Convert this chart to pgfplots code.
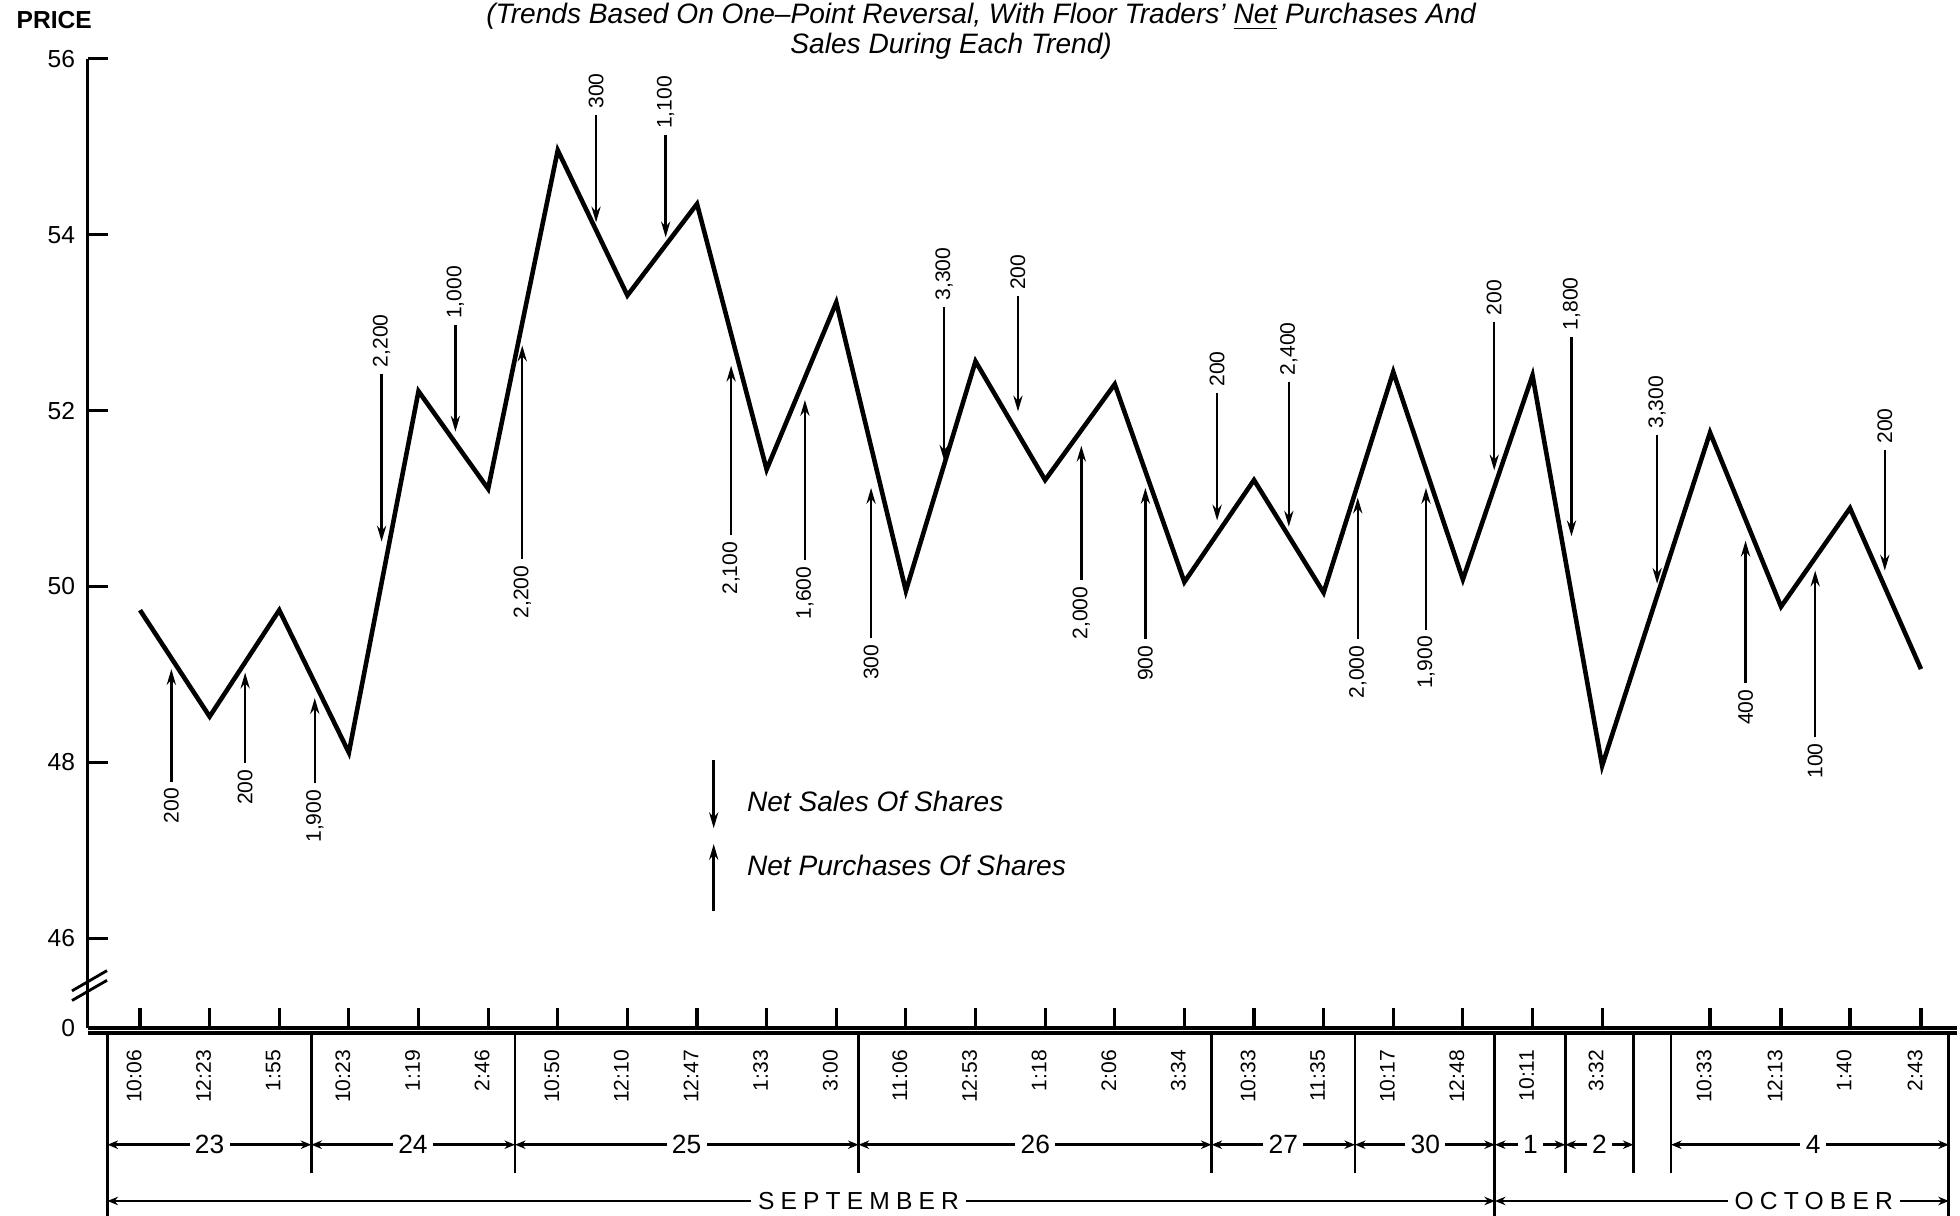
\documentclass[border=0pt]{standalone}
\usepackage{fontspec}
\setmainfont{Liberation Sans}
\setsansfont{Liberation Sans}
\usepackage{pgfplots}
\usepackage{pgfplotstable}
\pgfplotsset{compat=1.18}
\usetikzlibrary{arrows.meta}

\pgfplotstableread{
x y v lab
0.45 47.78 1.28 200
1.51 47.99 1.03 200
2.51 47.76 0.97 1,900
5.49 50.31 2.43 2,200
8.49 50.58 1.93 2,100
9.55 50.30 1.82 1,600
10.50 49.41 1.71 300
13.52 50.07 1.53 2,000
14.44 49.40 1.72 900
17.49 49.40 1.61 2,000
18.47 49.51 1.61 1,900
23.06 48.90 1.62 400
24.06 48.29 1.89 100
}\purch

\pgfplotstableread{
x y v lab
3.47 52.42 -1.91 2,200
4.53 52.97 -1.21 1,000
6.55 55.36 -1.22 300
7.55 55.13 -1.16 1,100
11.55 53.18 -1.75 3,300
12.61 53.30 -1.31 200
15.47 52.20 -1.45 200
16.50 52.33 -1.65 2,400
19.45 53.01 -1.69 200
20.56 52.84 -2.27 1,800
21.79 51.72 -1.69 3,300
25.06 51.55 -1.37 200
}\sales

\tikzset{
  sarrow/.style={-{Stealth[length=4.5pt,width=2.6pt]}, line width=0.7pt},
  darrow/.style={{Stealth[length=3pt,width=2.4pt]}-{Stealth[length=3pt,width=2.4pt]}, line width=0.8pt},
  daylab/.style={fill=white, inner sep=1.5pt, font=\fontsize{7.5}{9}\selectfont},
  monlab/.style={fill=white, inner sep=2pt, font=\fontsize{7}{8}\selectfont\addfontfeature{LetterSpace=25}},
}

\begin{document}
\begin{tikzpicture}
\begin{axis}[
  scale only axis,
  width=18.6875cm, height=9.6875cm,
  xmin=-0.754, xmax=26.09, ymin=44.98, ymax=56,
  axis x line=bottom, axis y line=left,
  axis line style={line width=1pt, -},
  clip=false,
  tick align=inside,
  major tick length=0.2cm,
  tick style={line width=0.9pt, black},
  xtick={0,1,2,3,4,5,6,7,8,9,10,11,12,13,14,15,16,17,18,19,20,21,22.55,23.57,24.56,25.58},
  xticklabels={10:06,12:23,1:55,10:23,1:19,2:46,10:50,12:10,12:47,1:33,3:00,11:06,12:53,1:18,2:06,3:34,10:33,11:35,10:17,12:48,10:11,3:32,10:33,12:13,1:40,2:43},
  xticklabel style={yshift=-0.1cm, xshift=-0.06cm, rotate=90, anchor=east, font=\fontsize{6}{7}\selectfont},
  ytick={44.98,46,48,50,52,54,56},
  yticklabels={0,46,48,50,52,54,56},
  yticklabel style={font=\fontsize{7}{8}\selectfont},
  /pgf/number format/assume math mode=true,
]
% price trend line
\addplot[black, line width=1.3pt] coordinates {
 (0,49.73) (1,48.52) (2,49.73) (3,48.11) (4,52.22) (5,51.11) (6,54.96) (7,53.31)
 (8,54.35) (9,51.33) (10,53.23) (11,49.95) (12,52.56) (13,51.21) (14,52.30) (15,50.05)
 (16,51.21) (17,49.93) (18,52.44) (19,50.08) (20,52.40) (21,47.96) (22.55,51.75)
 (23.57,49.77) (24.56,50.89) (25.58,49.06)};

% net purchases (up arrows, label below)
\addplot[black, sarrow, quiver={u=0, v=\thisrow{v}},
  point meta=explicit symbolic, nodes near coords,
  every node near coord/.append style={rotate=90, anchor=east, inner sep=1.5pt, font=\fontsize{6}{7}\selectfont, black}]
  table[x=x, y=y, meta=lab] {\purch};

% net sales (down arrows, label above)
\addplot[black, sarrow, quiver={u=0, v=\thisrow{v}},
  point meta=explicit symbolic, nodes near coords,
  every node near coord/.append style={rotate=90, anchor=west, inner sep=1.5pt, font=\fontsize{6}{7}\selectfont, black}]
  table[x=x, y=y, meta=lab] {\sales};

% titles
\node[font=\fontsize{8}{9}\selectfont\itshape] at (axis cs:12.08,56.48)
  {(Trends Based On One–Point Reversal, With Floor Traders' \underline{Net} Purchases And};
\node[font=\fontsize{8}{9}\selectfont\itshape] at (axis cs:11.65,56.14)
  {Sales During Each Trend)};
\node[font=\fontsize{7}{8}\selectfont\bfseries, anchor=west] at (axis cs:-1.95,56.44) {PRICE};

% axis break
\draw[line width=0.8pt] (axis cs:-0.977,45.40) -- (axis cs:-0.474,45.63);
\draw[line width=0.8pt] (axis cs:-0.977,45.29) -- (axis cs:-0.474,45.52);

% legend
\draw[sarrow] (axis cs:8.24,48.03) -- (axis cs:8.24,47.25);
\draw[sarrow] (axis cs:8.24,46.31) -- (axis cs:8.24,47.07);
\node[anchor=west, font=\fontsize{8}{9}\selectfont\itshape] at (axis cs:8.54,47.55) {Net Sales Of Shares};
\node[anchor=west, font=\fontsize{8}{9}\selectfont\itshape] at (axis cs:8.54,46.83) {Net Purchases Of Shares};

% date table below the axis
\draw[line width=0.9pt] (axis cs:-0.754,44.92) -- (axis cs:26.09,44.92);
\draw[line width=0.9pt] (axis cs:-0.467,44.92) -- (axis cs:-0.467,42.84);
\draw[line width=0.9pt] (axis cs:19.46,44.92) -- (axis cs:19.46,42.84);
\draw[line width=0.9pt] (axis cs:25.98,44.92) -- (axis cs:25.98,42.84);
\draw[line width=0.8pt] (axis cs:2.46,44.92) -- (axis cs:2.46,43.33);
\draw[line width=0.8pt] (axis cs:5.386,44.92) -- (axis cs:5.386,43.33);
\draw[line width=0.8pt] (axis cs:10.32,44.92) -- (axis cs:10.32,43.33);
\draw[line width=0.8pt] (axis cs:15.39,44.92) -- (axis cs:15.39,43.33);
\draw[line width=0.8pt] (axis cs:17.45,44.92) -- (axis cs:17.45,43.33);
\draw[line width=0.8pt] (axis cs:20.47,44.92) -- (axis cs:20.47,43.33);
\draw[line width=0.8pt] (axis cs:21.45,44.92) -- (axis cs:21.45,43.33);
\draw[line width=0.8pt] (axis cs:21.99,44.92) -- (axis cs:21.99,43.33);

\draw[darrow] (axis cs:-0.467,43.65) -- (axis cs:2.46,43.65);
\draw[darrow] (axis cs:2.46,43.65) -- (axis cs:5.386,43.65);
\draw[darrow] (axis cs:5.386,43.65) -- (axis cs:10.32,43.65);
\draw[darrow] (axis cs:10.32,43.65) -- (axis cs:15.39,43.65);
\draw[darrow] (axis cs:15.39,43.65) -- (axis cs:17.45,43.65);
\draw[darrow] (axis cs:17.45,43.65) -- (axis cs:19.46,43.65);
\draw[darrow] (axis cs:19.46,43.65) -- (axis cs:20.47,43.65);
\draw[darrow] (axis cs:20.47,43.65) -- (axis cs:21.45,43.65);
\draw[darrow] (axis cs:21.99,43.65) -- (axis cs:25.98,43.65);
\node[daylab] at (axis cs:1.00,43.65) {23};
\node[daylab] at (axis cs:3.92,43.65) {24};
\node[daylab] at (axis cs:7.85,43.65) {25};
\node[daylab] at (axis cs:12.86,43.65) {26};
\node[daylab] at (axis cs:16.42,43.65) {27};
\node[daylab] at (axis cs:18.46,43.65) {30};
\node[daylab] at (axis cs:19.97,43.65) {1};
\node[daylab] at (axis cs:20.96,43.65) {2};
\node[daylab] at (axis cs:24.03,43.65) {4};

\draw[darrow] (axis cs:-0.467,43.01) -- (axis cs:19.46,43.01);
\draw[darrow] (axis cs:19.46,43.01) -- (axis cs:25.98,43.01);
\node[monlab] at (axis cs:10.32,43.01) {SEPTEMBER};
\node[monlab] at (axis cs:24.04,43.01) {OCTOBER};

\coordinate (BL) at (axis cs:-2.011,42.84);
\coordinate (TR) at (axis cs:26.14,56.67);
\end{axis}
\pgfresetboundingbox
\useasboundingbox (BL) rectangle (TR);
\end{tikzpicture}
\end{document}
